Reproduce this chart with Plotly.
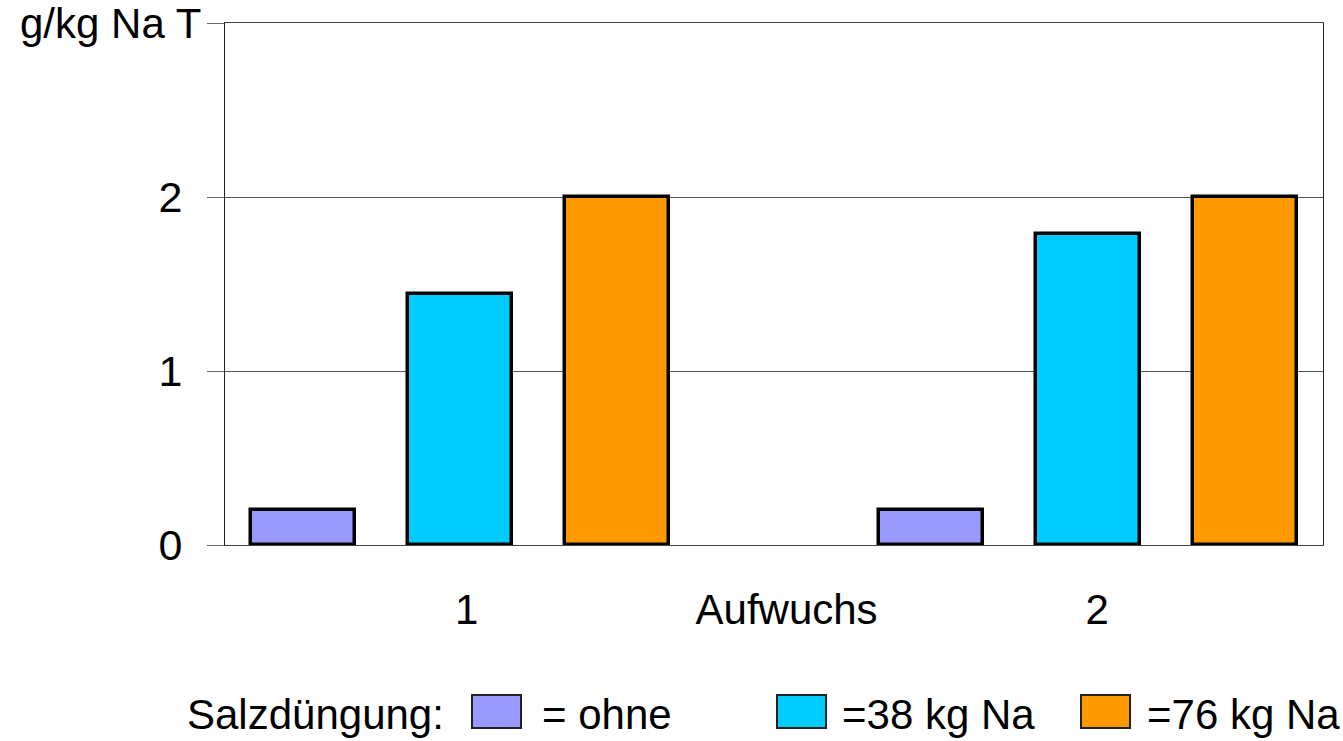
import plotly.graph_objects as go

# Na-Gehalt (g/kg TS) je Aufwuchs und Salzdüngungsstufe
aufwuchs = ["1", "2"]
stufen = ["= ohne", "=38 kg Na", "=76 kg Na"]
werte = {
    "= ohne":    [0.2, 0.2],
    "=38 kg Na": [1.44, 1.79],
    "=76 kg Na": [2.0, 2.0],
}
farben = ["#9999FF", "#00CCFF", "#FF9900"]

y_ticks = [0, 1, 2, 3]
y_ticktext = ["0", "1", "2", ""]
x_ticktext = ["1", "Aufwuchs", "2"]
x_tickvals = [1.54, 3.58, 5.56]

FONT = "Liberation Sans, Arial, sans-serif"
W, H = 1343, 741
L, R, T, B = 225, 20, 23, 196
PW, PH = W - L - R, H - T - B


def xp(px):
    return (px - L) / PW


def yp(py):
    return (H - B - py) / PH


fig = go.Figure()
slots_per_group = len(stufen) + 1
for s, (name, col) in enumerate(zip(stufen, farben)):
    xs = [g * slots_per_group + s + 0.5 for g in range(len(aufwuchs))]
    fig.add_trace(go.Bar(
        x=xs, y=werte[name], name=name, width=0.663,
        marker=dict(color=col, line=dict(color="black", width=3.5)),
        showlegend=False,
    ))

fig.update_layout(
    width=W, height=H,
    margin=dict(l=L, r=R, t=T, b=B, pad=0),
    paper_bgcolor="white", plot_bgcolor="white",
    font=dict(family=FONT, size=42, color="black"),
    bargap=0,
    xaxis=dict(
        range=[0, 7], tickvals=x_tickvals, ticktext=x_ticktext,
        ticks="", showgrid=False, zeroline=False,
        showline=True, linecolor="#444", linewidth=1, mirror=True,
        tickfont=dict(size=42), ticklabelstandoff=28,
    ),
    yaxis=dict(
        range=[0, 3], tickvals=y_ticks, ticktext=y_ticktext,
        ticks="outside", ticklen=17, tickcolor="#666", tickwidth=1,
        showgrid=True, gridcolor="#555", gridwidth=1, zeroline=False,
        showline=True, linecolor="#222", linewidth=1, mirror=True,
        tickfont=dict(size=43), ticklabelstandoff=16,
    ),
)

annotations = [
    dict(text="g/kg Na T", xref="paper", yref="paper", x=xp(203), y=yp(23),
         xanchor="right", yanchor="middle", showarrow=False,
         font=dict(size=42)),
    dict(text="Salzdüngung:", xref="paper", yref="paper", x=xp(185), y=yp(714),
         xanchor="left", yanchor="middle", showarrow=False,
         font=dict(size=42)),
]
shapes = []
box_left = [472, 777, 1081]
text_left = [540, 840, 1145]
for name, col, bl, tl in zip(stufen, farben, box_left, text_left):
    shapes.append(dict(type="rect", xref="paper", yref="paper",
                       x0=xp(bl), x1=xp(bl + 49), y0=yp(695), y1=yp(728),
                       fillcolor=col, line=dict(color="#222", width=2)))
    annotations.append(dict(text=name, xref="paper", yref="paper",
                            x=xp(tl), y=yp(714), xanchor="left",
                            yanchor="middle", showarrow=False,
                            font=dict(size=42)))

fig.update_layout(annotations=annotations, shapes=shapes)
fig.write_html("out.html")
